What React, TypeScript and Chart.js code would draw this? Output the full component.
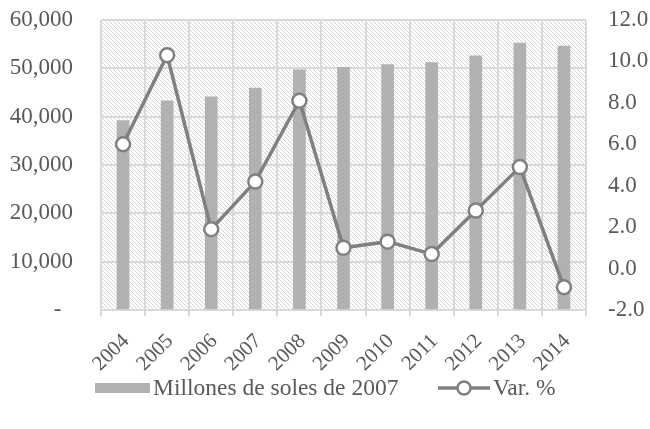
import React, { useEffect, useRef } from "react";
import { Chart, registerables } from "chart.js";

Chart.register(...registerables);

const years = ["2004", "2005", "2006", "2007", "2008", "2009", "2010", "2011", "2012", "2013", "2014"];
const millones = [39200, 43300, 44100, 45900, 49700, 50200, 50800, 51200, 52600, 55200, 54600];
const variacion = [6.0, 10.3, 1.9, 4.2, 8.1, 1.0, 1.3, 0.7, 2.8, 4.9, -0.9];
const barLabel = "Millones de soles de 2007";
const lineLabel = "Var. %";

const BAR_COLOR = "#b1b1b1";
const LINE_COLOR = "#808080";
const TEXT_COLOR = "#595959";
const GRID_COLOR = "#d9d9d9";
const FONT = "'Liberation Serif', 'Times New Roman', serif";

function makeHatch(): CanvasPattern | string {
  const c = document.createElement("canvas");
  c.width = 4;
  c.height = 4;
  const g = c.getContext("2d");
  if (!g) return "#ffffff";
  g.fillStyle = "#ffffff";
  g.fillRect(0, 0, 4, 4);
  g.fillStyle = "#d6d6d6";
  for (let i = 0; i < 4; i++) g.fillRect(i, i, 1, 1);
  const p = g.createPattern(c, "repeat");
  return p || "#ffffff";
}

export default function App() {
  const ref = useRef<HTMLCanvasElement | null>(null);

  useEffect(() => {
    if (!ref.current) return;
    const hatch = makeHatch();

    const hatchPlugin = {
      id: "hatchBg",
      beforeDraw(chart: any) {
        const { ctx, chartArea } = chart;
        if (!chartArea) return;
        ctx.save();
        ctx.fillStyle = hatch;
        ctx.fillRect(chartArea.left, chartArea.top, chartArea.right - chartArea.left, chartArea.bottom - chartArea.top);
        ctx.restore();
      },
    };

    const legendPlugin = {
      id: "customLegend",
      afterDraw(chart: any) {
        const { ctx, chartArea } = chart;
        const ds0 = chart.data.datasets[0];
        const ds1 = chart.data.datasets[1];
        const cy = chartArea.bottom + 78;
        ctx.save();
        ctx.font = `23.5px ${FONT}`;
        ctx.textBaseline = "middle";
        ctx.textAlign = "left";
        ctx.fillStyle = ds0.backgroundColor;
        ctx.fillRect(95, cy - 5, 55, 10);
        ctx.fillStyle = TEXT_COLOR;
        ctx.fillText(ds0.label, 153, cy + 1);
        ctx.strokeStyle = ds1.borderColor;
        ctx.lineWidth = 3.5;
        ctx.beginPath();
        ctx.moveTo(438, cy);
        ctx.lineTo(490, cy);
        ctx.stroke();
        ctx.beginPath();
        ctx.arc(464, cy, 6.5, 0, Math.PI * 2);
        ctx.fillStyle = "#ffffff";
        ctx.fill();
        ctx.lineWidth = 2.5;
        ctx.stroke();
        ctx.fillStyle = TEXT_COLOR;
        ctx.fillText(ds1.label, 493, cy + 1);
        ctx.restore();
      },
    };

    const fixPad = (s: any) => {
      s.paddingTop = 0;
      s.paddingBottom = 0;
    };

    const chart = new Chart(ref.current, {
      type: "bar",
      data: {
        labels: years,
        datasets: [
          {
            type: "bar",
            label: barLabel,
            data: millones,
            backgroundColor: BAR_COLOR,
            barThickness: 12,
            yAxisID: "y",
            order: 1,
          } as any,
          {
            type: "line",
            label: lineLabel,
            data: variacion,
            borderColor: LINE_COLOR,
            borderWidth: 3.5,
            pointRadius: 7,
            pointBorderWidth: 2.5,
            pointBackgroundColor: "#ffffff",
            pointBorderColor: LINE_COLOR,
            pointStyle: "circle",
            yAxisID: "y1",
            order: 0,
          } as any,
        ],
      },
      options: {
        animation: false,
        responsive: false,
        maintainAspectRatio: false,
        layout: { padding: { left: 0, right: 0, top: 20, bottom: 29 } },
        plugins: {
          tooltip: { enabled: false },
          legend: { display: false },
        },
        scales: {
          x: {
            offset: true,
            grid: {
              display: true,
              offset: true,
              color: GRID_COLOR,
              lineWidth: 2,
              drawTicks: true,
              tickLength: 6,
            },
            border: { display: true, color: GRID_COLOR, width: 2 },
            ticks: {
              color: TEXT_COLOR,
              font: { family: FONT, size: 21 },
              minRotation: 45,
              maxRotation: 45,
              autoSkip: false,
              padding: 13,
              labelOffset: 3,
            },
            afterFit: (s: any) => {
              s.height = 90;
            },
          } as any,
          y: {
            position: "left",
            min: 0,
            max: 60000,
            grid: { color: GRID_COLOR, lineWidth: 2, drawTicks: false },
            border: { display: false },
            ticks: {
              stepSize: 10000,
              color: TEXT_COLOR,
              font: { family: FONT, size: 23 },
              padding: 28,
              callback: (v: any) => (Number(v) === 0 ? "-  " : Number(v).toLocaleString("en-US")),
            },
            afterFit: (s: any) => {
              s.width = 101;
              fixPad(s);
            },
          } as any,
          y1: {
            position: "right",
            min: -2,
            max: 12,
            grid: { display: false, drawTicks: false },
            border: { display: false },
            ticks: {
              stepSize: 2,
              color: TEXT_COLOR,
              font: { family: FONT, size: 23 },
              padding: 22,
              callback: (v: any) => Number(v).toFixed(1),
            },
            afterFit: (s: any) => {
              s.width = 64;
              fixPad(s);
            },
          } as any,
        },
      },
      plugins: [hatchPlugin, legendPlugin],
    });

    return () => chart.destroy();
  }, []);

  return (
    <div style={{ position: "fixed", left: 0, top: 0, width: 650, height: 429, background: "#ffffff" }}>
      <canvas ref={ref} width={650} height={429} style={{ display: "block", width: 650, height: 429 }} />
    </div>
  );
}
